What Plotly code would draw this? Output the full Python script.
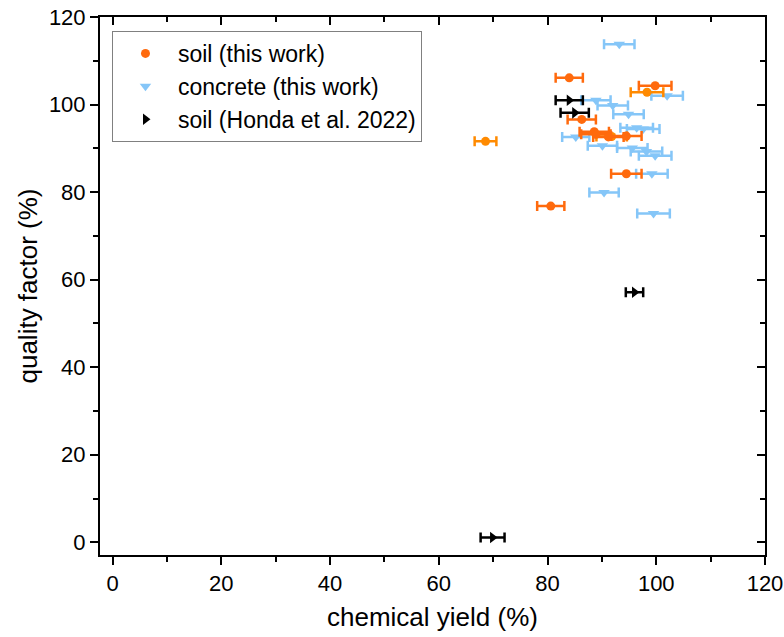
import plotly.graph_objects as go

# soil (this work)
soil_x = [84.0, 99.8, 86.3, 88.6, 88.9, 91.2, 94.5, 94.5, 80.6]
soil_y = [106.1, 104.3, 96.6, 93.8, 93.2, 92.6, 92.8, 84.2, 76.8]
soil_ex = [2.5, 3.0, 2.6, 2.7, 2.7, 2.8, 2.8, 2.8, 2.5]
# soil (this work) - lighter orange shade
soil2_x = [68.6, 98.3, 91.8]
soil2_y = [91.6, 102.8, 92.7]
soil2_ex = [2.0, 3.0, 2.8]
# concrete (this work)
conc_x = [93.2, 102.0, 88.9, 92.0, 94.9, 96.4, 97.6, 85.2, 90.1, 95.6, 98.2, 99.8, 99.2, 90.4, 99.5]
conc_y = [113.8, 102.0, 101.0, 99.8, 97.8, 94.7, 94.4, 92.6, 90.6, 90.1, 89.3, 88.3, 84.2, 79.9, 75.1]
conc_ex = [2.8, 2.9, 2.7, 2.8, 2.8, 3.0, 3.0, 2.5, 2.7, 2.8, 2.9, 3.0, 2.9, 2.7, 3.0]
# soil (Honda et al. 2022)
honda_x = [84.0, 85.0, 96.0, 69.9]
honda_y = [101.0, 98.1, 57.1, 1.1]
honda_ex = [2.5, 2.6, 1.6, 2.2]

ORANGE = "#FF6A0D"
ORANGE2 = "#FF8A00"
BLUE = "#85C6F8"
FONT = "Liberation Sans, Arial, sans-serif"

fig = go.Figure()
fig.add_trace(go.Scatter(x=conc_x, y=conc_y, mode="markers", name="concrete (this work)",
                         marker=dict(symbol="triangle-down", size=10, color=BLUE),
                         error_x=dict(type="data", array=conc_ex, color=BLUE, thickness=2.5, width=5),
                         legendrank=2))
fig.add_trace(go.Scatter(x=soil2_x, y=soil2_y, mode="markers", name="soil2", showlegend=False,
                         marker=dict(symbol="circle", size=9, color=ORANGE2),
                         error_x=dict(type="data", array=soil2_ex, color=ORANGE2, thickness=2.5, width=5)))
fig.add_trace(go.Scatter(x=soil_x, y=soil_y, mode="markers", name="soil (this work)",
                         marker=dict(symbol="circle", size=9, color=ORANGE),
                         error_x=dict(type="data", array=soil_ex, color=ORANGE, thickness=2.5, width=5),
                         legendrank=1))
fig.add_trace(go.Scatter(x=honda_x, y=honda_y, mode="markers", name="soil (Honda et al. 2022)",
                         marker=dict(symbol="triangle-right", size=10, color="black"),
                         error_x=dict(type="data", array=honda_ex, color="black", thickness=2.5, width=5),
                         legendrank=3))
# invisible trace for mirrored axes
fig.add_trace(go.Scatter(x=[0], y=[0], xaxis="x2", yaxis="y2", mode="markers",
                         marker=dict(opacity=0), showlegend=False, hoverinfo="skip"))

XR = [-2.3, 120]
YR = [-2.9, 120]
common = dict(showgrid=False, zeroline=False, linecolor="black", linewidth=2,
              tickcolor="black", tickwidth=2, ticklen=8, automargin=False)
minor_out = dict(dtick=10, tick0=0, ticks="outside", ticklen=5, tickwidth=2, tickcolor="black")
minor_in = dict(dtick=10, tick0=0, ticks="inside", ticklen=5, tickwidth=2, tickcolor="black")

fig.update_layout(
    width=784, height=637,
    margin=dict(l=100, r=19, t=17, b=82),
    paper_bgcolor="white", plot_bgcolor="white",
    font=dict(family=FONT, color="black"),
    xaxis=dict(range=XR, dtick=20, tick0=0, ticks="outside", showline=True,
               tickfont=dict(size=22), title=dict(text="chemical yield (%)", font=dict(size=26), standoff=12),
               minor=minor_out, **common),
    yaxis=dict(range=YR, dtick=20, tick0=0, ticks="outside", showline=True,
               tickfont=dict(size=22), title=dict(text="quality factor (%)", font=dict(size=26), standoff=4),
               minor=minor_out, **common),
    xaxis2=dict(range=XR, dtick=20, tick0=0, ticks="inside", showline=True, overlaying="x", side="top",
                showticklabels=False, anchor="y2", minor=minor_in, **common),
    yaxis2=dict(range=YR, dtick=20, tick0=0, ticks="inside", showline=True, overlaying="y", side="right",
                showticklabels=False, anchor="x2", minor=minor_in, **common),
    legend=dict(x=0.018, y=0.974, xanchor="left", yanchor="top", bgcolor="white",
                bordercolor="#808080", borderwidth=1, font=dict(size=23, family=FONT),
                tracegroupgap=0, itemwidth=55, traceorder="normal"),
    showlegend=True,
)

fig.write_html("out.html")
